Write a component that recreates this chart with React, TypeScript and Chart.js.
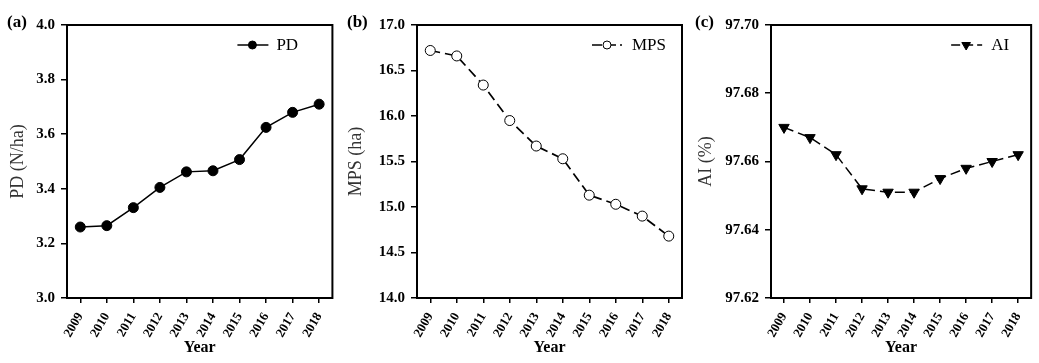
import React, { useEffect, useRef } from "react";
import { Chart, registerables } from "chart.js";

Chart.register(...registerables);

const YEARS = ["2009", "2010", "2011", "2012", "2013", "2014", "2015", "2016", "2017", "2018"];
const PD_VALUES = [3.26, 3.265, 3.331, 3.405, 3.462, 3.466, 3.507, 3.625, 3.68, 3.71];
const MPS_VALUES = [16.72, 16.66, 16.34, 15.95, 15.67, 15.53, 15.13, 15.03, 14.9, 14.68];
const AI_VALUES = [97.67, 97.667, 97.662, 97.652, 97.651, 97.651, 97.655, 97.658, 97.66, 97.662];

const PD_AXIS = [3.0, 4.0, 0.2, 1];
const MPS_AXIS = [14.0, 17.0, 0.5, 1];
const AI_AXIS = [97.62, 97.7, 0.02, 2];

const SERIF = "'Liberation Serif', 'Times New Roman', serif";

function drawMarker(ctx: CanvasRenderingContext2D, kind: string, x: number, y: number, r: number) {
  ctx.save();
  ctx.setLineDash([]);
  ctx.lineWidth = 1;
  ctx.strokeStyle = "#000";
  ctx.beginPath();
  if (kind === "triangleDown") {
    for (let i = 0; i < 3; i++) {
      const a = Math.PI + (i * 2 * Math.PI) / 3;
      const px = x + Math.sin(a) * r;
      const py = y - Math.cos(a) * r;
      if (i === 0) ctx.moveTo(px, py);
      else ctx.lineTo(px, py);
    }
    ctx.closePath();
    ctx.fillStyle = "#000";
  } else {
    ctx.arc(x, y, r, 0, Math.PI * 2);
    ctx.fillStyle = kind === "open" ? "#fff" : "#000";
  }
  ctx.fill();
  ctx.stroke();
  ctx.restore();
}

const panelPlugin = {
  id: "panelDecor",
  afterDraw(chart: any, _args: any, opts: any) {
    const { ctx, chartArea: a } = chart;
    ctx.save();
    // frame
    ctx.strokeStyle = "#000";
    ctx.lineWidth = 2;
    ctx.setLineDash([]);
    ctx.strokeRect(a.left, a.top, a.right - a.left, a.bottom - a.top);
    // panel label
    ctx.fillStyle = "#000";
    ctx.font = `bold 17px ${SERIF}`;
    ctx.textAlign = "left";
    ctx.textBaseline = "alphabetic";
    ctx.fillText(opts.label, opts.labelX, opts.labelY);
    // legend
    const y = opts.legendY;
    const x0 = a.right - opts.lineFrom;
    const x1 = a.right - opts.lineTo;
    const mx = a.right - opts.markerAt;
    ctx.beginPath();
    ctx.lineWidth = 1.5;
    ctx.setLineDash(opts.dash);
    ctx.moveTo(x0, y);
    ctx.lineTo(x1, y);
    ctx.stroke();
    drawMarker(ctx, opts.marker, mx, y, opts.markerR);
    ctx.setLineDash([]);
    ctx.fillStyle = "#000";
    ctx.font = `17px ${SERIF}`;
    ctx.textBaseline = "middle";
    ctx.fillText(opts.text, a.right - opts.textAt, y + 1);
    ctx.restore();
  },
};

type PanelProps = {
  left: number;
  width: number;
  chartLeft: number;
  padRight: number;
  values: number[];
  axis: number[];
  yTitle: string;
  yTitlePad: number;
  dataset: any;
  decor: any;
};

function Panel(p: PanelProps) {
  const ref = useRef<HTMLCanvasElement | null>(null);
  useEffect(() => {
    if (!ref.current) return;
    const [min, max, step, decimals] = p.axis;
    const chart = new Chart(ref.current, {
      type: "line",
      data: {
        labels: YEARS,
        datasets: [
          {
            data: p.values,
            borderColor: "#000",
            borderWidth: 1.5,
            tension: 0,
            pointBorderColor: "#000",
            pointBorderWidth: 1,
            ...p.dataset,
          },
        ],
      },
      options: {
        responsive: false,
        animation: false,
        events: [],
        layout: { padding: { left: 0, top: 25, right: p.padRight, bottom: 0 } },
        plugins: {
          legend: { display: false },
          tooltip: { enabled: false },
          panelDecor: p.decor,
        } as any,
        scales: {
          x: {
            type: "category",
            offset: true,
            afterFit: (s: any) => {
              s.height = 65;
            },
            grid: {
              offset: false,
              drawOnChartArea: false,
              drawTicks: true,
              tickLength: 5,
              color: "#000",
              lineWidth: 1.5,
            },
            border: { display: false },
            ticks: {
              autoSkip: false,
              maxRotation: 60,
              minRotation: 60,
              padding: 7,
              color: "#000",
              font: { family: SERIF, size: 13, weight: "bold" },
            },
            title: {
              display: true,
              text: "Year",
              color: "#000",
              padding: { top: 0, bottom: 6 },
              font: { family: SERIF, size: 16, weight: "bold" },
            },
          },
          y: {
            type: "linear",
            min,
            max,
            afterFit: (s: any) => {
              s.width = p.chartLeft;
            },
            grid: {
              drawOnChartArea: false,
              drawTicks: true,
              tickLength: 6,
              color: "#000",
              lineWidth: 1.5,
            },
            border: { display: false },
            ticks: {
              stepSize: step,
              padding: 6,
              color: "#000",
              font: { family: SERIF, size: 15, weight: "bold" },
              callback: (v: any) => Number(v).toFixed(decimals),
            },
            title: {
              display: true,
              text: p.yTitle,
              color: "#333",
              padding: { top: p.yTitlePad, bottom: 0 },
              font: { family: SERIF, size: 18 },
            },
          },
        },
      },
      plugins: [panelPlugin as any],
    });
    return () => chart.destroy();
  }, []);
  return (
    <canvas
      ref={ref}
      width={p.width}
      height={363}
      style={{ position: "absolute", left: p.left, top: 0, width: p.width, height: 363 }}
    />
  );
}

export default function App() {
  return (
    <div style={{ position: "absolute", left: 0, top: 0, width: 1039, height: 363, background: "#fff" }}>
      <Panel
        left={0}
        width={340}
        chartLeft={67}
        padRight={7}
        values={PD_VALUES}
        axis={PD_AXIS}
        yTitle="PD (N/ha)"
        yTitlePad={7}
        dataset={{ pointStyle: "circle", pointRadius: 5, pointBackgroundColor: "#000" }}
        decor={{
          label: "(a)",
          labelX: 7,
          labelY: 27,
          legendY: 45,
          lineFrom: 95,
          lineTo: 64,
          markerAt: 80,
          markerR: 4,
          marker: "filled",
          dash: [],
          text: "PD",
          textAt: 56,
        }}
      />
      <Panel
        left={340}
        width={350}
        chartLeft={77}
        padRight={8}
        values={MPS_VALUES}
        axis={MPS_AXIS}
        yTitle="MPS (ha)"
        yTitlePad={5}
        dataset={{
          pointStyle: "circle",
          pointRadius: 5,
          pointBackgroundColor: "#fff",
          borderDash: [10, 5],
          borderWidth: 1.7,
        }}
        decor={{
          label: "(b)",
          labelX: 7,
          labelY: 27,
          legendY: 45,
          lineFrom: 90,
          lineTo: 60,
          markerAt: 75,
          markerR: 4,
          marker: "open",
          dash: [10, 4],
          text: "MPS",
          textAt: 50,
        }}
      />
      <Panel
        left={690}
        width={349}
        chartLeft={81}
        padRight={2}
        values={AI_VALUES}
        axis={AI_AXIS}
        yTitle="AI (%)"
        yTitlePad={5}
        dataset={{
          pointStyle: "triangle",
          rotation: 180,
          pointRadius: 6,
          pointBackgroundColor: "#000",
          borderDash: [10, 5],
        }}
        decor={{
          label: "(c)",
          labelX: 5,
          labelY: 27,
          legendY: 45,
          lineFrom: 80,
          lineTo: 49,
          markerAt: 65,
          markerR: 5,
          marker: "triangleDown",
          dash: [9, 4],
          text: "AI",
          textAt: 40,
        }}
      />
    </div>
  );
}
